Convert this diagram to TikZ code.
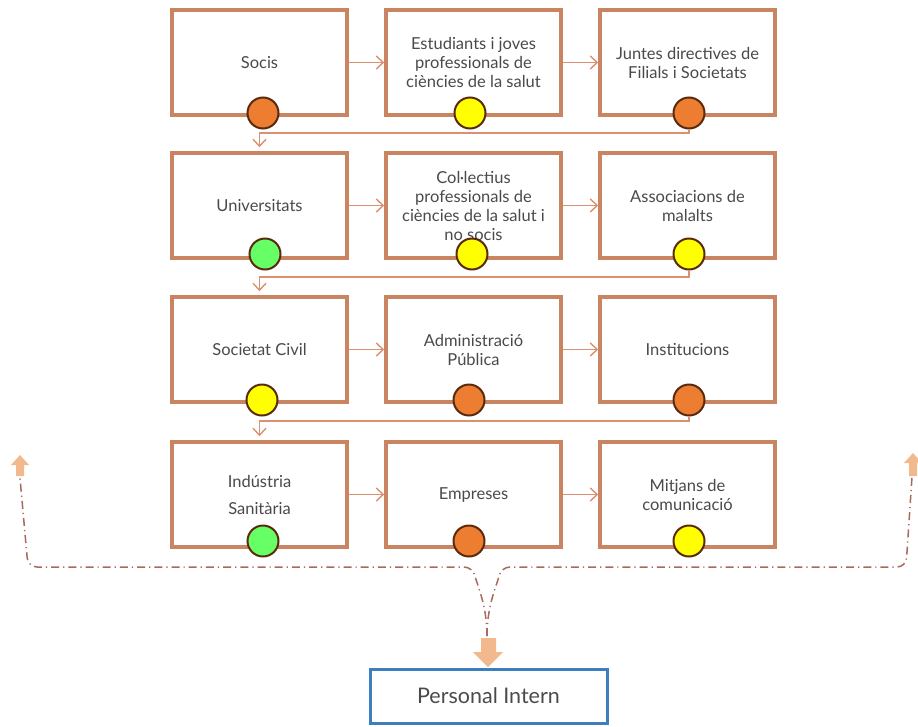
\documentclass[tikz,border=0pt]{standalone}
\usepackage{fontspec}
\setmainfont{Lato}
\usetikzlibrary{arrows.meta}
\definecolor{boxline}{HTML}{C98562}
\definecolor{linkcol}{HTML}{DB9070}
\definecolor{txt}{HTML}{4A4A4A}
\definecolor{dotorange}{HTML}{ED7D31}
\definecolor{dotyellow}{HTML}{FFFF00}
\definecolor{dotgreen}{HTML}{66FF66}
\definecolor{dotrim}{HTML}{5A2A0E}
\definecolor{ddcol}{HTML}{A86A5C}
\definecolor{blobcol}{HTML}{F2B88E}
\definecolor{internblue}{HTML}{3D7EBE}
\tikzset{
  stepbox/.style={draw=boxline, line width=3.5pt, fill=white, minimum width=175pt,
    minimum height=105pt, align=center, text=txt,
    font=\fontsize{16.5}{19}\selectfont, inner sep=2pt},
  dot/.style={circle, draw=dotrim, line width=2pt, minimum size=31pt, inner sep=0pt},
  dotO/.style={dot, fill=dotorange},
  dotY/.style={dot, fill=dotyellow},
  dotG/.style={dot, fill=dotgreen},
  link/.style={draw=linkcol, line width=1.4pt, -{Straight Barb[length=7pt,width=13pt]}},
  rowlink/.style={link, shorten >=4pt},
  dd/.style={draw=ddcol, line width=1.5pt, dash pattern=on 8pt off 4pt on 1.2pt off 4pt},
  blob/.style={fill=blobcol},
  intern/.style={draw=internblue, line width=3pt, minimum width=237pt, minimum height=54pt,
    text=txt, font=\fontsize{21.5}{25}\selectfont}
}
\begin{document}
\begin{tikzpicture}[x=1pt,y=-1pt]
\useasboundingbox (0,0) rectangle (918,726);

% row 1
\node[stepbox] (b11) at (259.5,62.5) {Socis};
\node[stepbox] (b12) at (473.5,62.5) {Estudiants i joves\\professionals de\\ciències de la salut};
\node[stepbox] (b13) at (687.5,62.5) {Juntes directives de\\Filials i Societats};
% row 2
\node[stepbox] (b21) at (259.5,205.5) {Universitats};
\node[stepbox] (b22) at (473.5,205.5) {Col·lectius\\professionals de\\ciències de la salut i\\no socis};
\node[stepbox] (b23) at (687.5,205.5) {Associacions de\\malalts};
% row 3
\node[stepbox] (b31) at (259.5,349.5) {Societat Civil};
\node[stepbox] (b32) at (473.5,349.5) {Administració\\Pública};
\node[stepbox] (b33) at (687.5,349.5) {Institucions};
% row 4
\node[stepbox, font=\fontsize{16.5}{27}\selectfont] (b41) at (259.5,494.5) {Indústria\\Sanitària};
\node[stepbox] (b42) at (473.5,494.5) {Empreses};
\node[stepbox] (b43) at (687.5,494.5) {Mitjans de\\comunicació};

% arrows inside each row
\foreach \r in {1,2,3,4}{
  \draw[link] (b\r1.east) -- (b\r2.west);
  \draw[link] (b\r2.east) -- (b\r3.west);
}

% links from the end of a row to the start of the next
\coordinate (j1) at (259.5,133);
\coordinate (j2) at (259.5,277);
\coordinate (j3) at (259.5,421);

% status dots
\node[dotO] (c11) at (263,113) {};
\node[dotY] (c12) at (470,113) {};
\node[dotO] (c13) at (689,113) {};
\node[dotG] (c21) at (265,254) {};
\node[dotY] (c22) at (472,254) {};
\node[dotY] (c23) at (689,254) {};
\node[dotY] (c31) at (262,400) {};
\node[dotO] (c32) at (469,400) {};
\node[dotO] (c33) at (689,400) {};
\node[dotG] (c41) at (263,541) {};
\node[dotO] (c42) at (469,541) {};
\node[dotY] (c43) at (689,541) {};

\draw[rowlink] (c13.south) |- (j1) -- (b21.north);
\draw[rowlink] (c23.south) |- (j2) -- (b31.north);
\draw[rowlink] (c33.south) |- (j3) -- (b41.north);

% dash-dotted spread line
\coordinate (jm) at (487,636);
\coordinate (jl) at (473,567);
\coordinate (jr) at (501,567);
\coordinate (cl) at (28,567);
\coordinate (el) at (20,478);
\coordinate (cr) at (906,567);
\coordinate (er) at (912,477);
\draw[dd, rounded corners=9pt] (jm) .. controls (487,605) and (477,585) .. (jl) -- (cl) -- (el);
\draw[dd, rounded corners=9pt] (jm) .. controls (487,605) and (497,585) .. (jr) -- (cr) -- (er);

% block arrow heads
\fill[blob] (16,476) -- (16,465) -- (11,465) -- (20,455) -- (29,465) -- (24,465) -- (24,476) -- cycle;
\fill[blob] (909,476) -- (909,463) -- (904,463) -- (913,453) -- (922,463) -- (917,463) -- (917,476) -- cycle;
\fill[blob] (481,638) -- (496,638) -- (496,652) -- (503,652) -- (488,667) -- (473,652) -- (481,652) -- cycle;

% target
\node[intern] (pi) at (488.5,696) {Personal Intern};
\end{tikzpicture}
\end{document}
